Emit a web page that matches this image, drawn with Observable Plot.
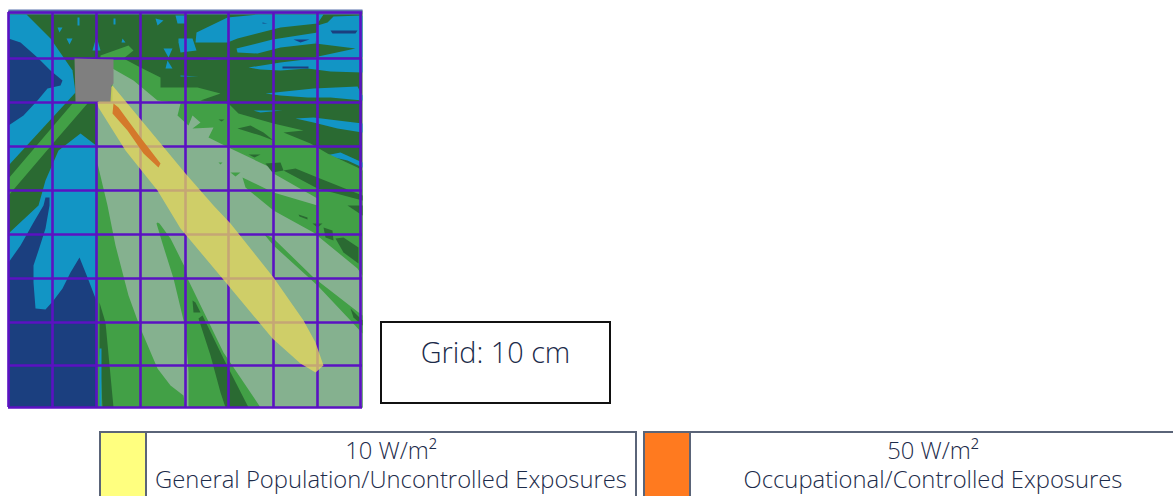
<!DOCTYPE html>
<html><head><meta charset="utf-8">
<script src="https://cdn.jsdelivr.net/npm/d3@7"></script>
<script src="https://cdn.jsdelivr.net/npm/@observablehq/plot@0.6"></script>
<style>
html,body{margin:0;padding:0;background:#fff;overflow:hidden}
#page{position:relative;width:1173px;height:496px;overflow:hidden;font-family:"Open Sans","Noto Sans",sans-serif;color:#1c2b4a}
#chart svg{display:block}
#gridbox{position:absolute;left:380px;top:321px;width:227px;height:79px;border:2px solid #111;text-align:center;font-size:28.8px;font-weight:300;line-height:57px}
.leg{position:absolute;top:431px;height:80px;border:2px solid #5a6478;box-sizing:border-box;display:flex;background:#fff}
.sw{width:44px;border-right:2px solid #5a6478;flex:none}
.tx{flex:1;text-align:center;font-size:23.8px;font-weight:300;line-height:29.5px;padding-top:2.5px;white-space:nowrap}
</style></head><body>
<div id="page"><div id="chart"></div>
<div id="gridbox">Grid: 10 cm</div>
<div class="leg" style="left:99px;width:538px"><div class="sw" style="background:#ffff7f"></div><div class="tx">10 W/m²<br>General Population/Uncontrolled Exposures</div></div>
<div class="leg" style="left:643px;width:540px"><div class="sw" style="background:#ff7a1f"></div><div class="tx" style="padding-right:6px">50 W/m²<br>Occupational/Controlled Exposures</div></div>
</div>
<script>
// Field-strength regions; 44 units = one 10 cm grid cell.
const gridX=[0,44,88,132,177,220,265,309,352];
const gridY=[-2,44,88,132,176,220,264,308,351,393];
const baseDark=[[[0,-4],[354,-4],[354,393],[0,393]]];
const topStrip=[[[0,-5],[354,-5],[354,0],[0,0]]];
const blueRegions=[
[[0,0],[18,0],[42,24],[64,56],[67,78],[0,151]],
[[72,119],[89,132],[90,393],[0,393],[0,219],[30,191],[37,166],[50,136]],
[[188,18],[219,3],[249,0],[315,0],[309,9],[272,13],[229,24],[219,28],[187,28]],
[[228,34],[264,25],[309,18],[307,29],[272,33],[249,39],[229,38]],
[[309,11],[319,8],[325,2],[354,1],[354,43],[305,43],[347,34],[307,29]],
[[240,53],[272,48],[305,44],[354,44],[354,58],[322,57],[299,54],[272,56],[252,55]],
[[257,79],[305,74],[349,72],[354,81],[354,86],[322,83],[299,83],[272,81]],
[[287,104],[305,103],[354,109],[354,118],[329,114],[305,108]],
[[317,141],[332,138],[354,148],[354,153],[339,146]],
[[170,24],[184,24],[188,36],[172,38],[170,28]],
[[147,4],[155,6],[149,11]],
[[167,1],[177,1],[177,9],[169,9]],
[[155,34],[164,34],[160,43]],
[[159,46],[164,54],[157,54]],
[[58,24],[64,24],[61,30]],
[[49,13],[54,13],[51,18]],
[[69,3],[71,3],[71,11],[69,11]],
[[105,4],[107,4],[107,10],[105,10]],
[[114,24],[117,28],[113,28]],
[[88,22],[92,36],[84,36]],
[[172,61],[190,62],[172,62]],
[[245,96],[274,96],[252,98]],
[[199,44],[215,45],[199,45]]
];
const navyRegions=[
[[0,24],[12,28],[29,43],[42,56],[54,66],[52,71],[39,74],[29,86],[15,101],[0,111]],
[[37,183],[41,183],[41,191],[37,214],[30,236],[25,251],[25,268],[27,294],[37,295],[45,286],[54,274],[62,258],[71,243],[79,263],[89,289],[89,393],[0,393],[0,248],[12,231],[25,208],[35,191]]
];
const greenMain=[
[[64,89],[79,89],[47,126],[0,181],[0,164]],
[[92,41],[120,31],[125,36],[115,44],[132,53],[152,63],[152,73],[189,73],[212,79],[192,86],[220,89],[230,99],[265,109],[295,116],[275,118],[302,129],[319,139],[349,153],[354,156],[354,393],[89,393],[89,89]]
];
const darkStrip=[[[91,288],[97,308],[105,393],[94,393],[91,334]]];
const blueSliver=[[[91,334],[93,334],[93,393],[91,393]]];
const paleRegion=[[[104,54],[125,66],[149,86],[172,89],[169,101],[180,111],[184,101],[192,108],[184,114],[205,113],[200,123],[220,133],[262,153],[265,159],[309,184],[309,191],[265,178],[234,163],[237,173],[265,196],[305,218],[349,254],[354,261],[354,393],[177,393],[175,381],[162,371],[149,354],[132,314],[120,281],[107,231],[99,191],[89,149],[89,89],[104,88]]];
const greenOverPale=[
[[222,158],[232,158],[227,162]],
[[210,148],[214,148],[212,150]],
[[149,208],[151,209],[162,224],[177,254],[179,264],[215,338],[252,393],[180,393],[180,358],[177,314],[165,264],[154,229],[148,209]],
[[255,219],[265,224],[305,263],[354,301],[354,319],[342,306],[309,271],[265,231]]
];
const darkIslands=[
[[229,114],[242,111],[255,118],[265,126],[252,121]],
[[240,140],[252,140],[246,143]],
[[257,149],[272,148],[275,156],[264,158]],
[[275,156],[287,154],[309,163],[354,181],[354,186],[309,174]],
[[339,191],[354,201],[354,191]],
[[327,224],[335,223],[350,233],[350,249],[335,238]],
[[315,213],[324,216],[325,226],[317,223]],
[[290,200],[299,203],[299,205],[291,202]],
[[304,209],[314,209],[309,213]],
[[210,105],[216,105],[213,107]],
[[190,304],[194,301],[215,344],[240,393],[217,393],[212,378],[202,341]],
[[184,286],[187,288],[192,298],[185,298]],
[[342,294],[354,306],[354,311],[345,303]]
];
const navyStreaks=[
[[322,16],[349,16],[347,19],[324,19]],
[[285,25],[301,25],[292,28]],
[[274,52],[300,52],[300,54],[274,54]],
[[254,8],[259,9],[254,9]]
];
const yellowBeam=[[[104,71],[177,159],[205,191],[222,209],[265,263],[295,306],[307,328],[315,351],[307,358],[292,349],[264,324],[214,264],[172,214],[149,176],[117,136],[90,93],[89,88]]];
const orangeBeam=[[[105,89],[110,93],[132,123],[152,149],[150,153],[135,139],[119,116],[104,99]]];
const antennaBox=[[[66,44],[105,45],[105,69],[103,71],[102,87],[67,87]]];

const poly=(rings,fill,extra={})=>Plot.line(
  rings.flatMap((r,i)=>r.map(([x,y])=>({x,y,i}))),
  {x:"x",y:"y",z:"i",fill,stroke:"none",...extra});
const grid="#5b12c2";
const chart=Plot.plot({
  width:1173,height:424,marginLeft:8,marginRight:813,marginTop:14,marginBottom:14,
  x:{domain:[0,352],range:[8,360],axis:null},y:{domain:[0,396],range:[14,410],axis:null},
  style:{background:"transparent"},
  marks:[
    poly(baseDark,"#2a6a32"),
    poly(topStrip,"#5a72ae"),
    poly(blueRegions,"#1295c5"),
    poly(navyRegions,"#1b3f7f"),
    poly(greenMain,"#42a046"),
    poly(darkStrip,"#2a6a32"),
    poly(blueSliver,"#1295c5"),
    poly(paleRegion,"#85b18f"),
    poly(greenOverPale,"#42a046"),
    poly(darkIslands,"#2a6a32"),
    poly(navyStreaks,"#1b3f7f"),
    Plot.ruleX(gridX,{x:d=>d,y1:()=>-2,y2:()=>393,stroke:grid,strokeWidth:2.6}),
    Plot.ruleY(gridY,{y:d=>d,x1:()=>0,x2:()=>354,stroke:grid,strokeWidth:2.4}),
    poly(yellowBeam,"#e8d85b",{fillOpacity:0.75}),
    poly(orangeBeam,"#d4792b"),
    poly(antennaBox,"#7f7f7f")
  ]
});
document.getElementById("chart").append(chart);
</script>
</body></html>
